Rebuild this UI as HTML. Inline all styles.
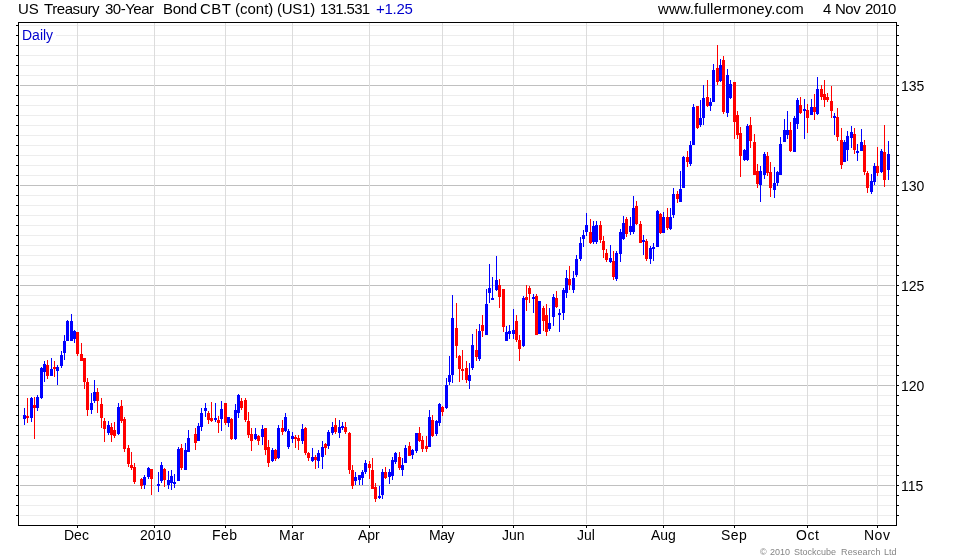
<!DOCTYPE html>
<html lang="en"><head><meta charset="utf-8"><title>US Treasury 30-Year Bond CBT (cont) (US1)</title>
<style>
html,body{margin:0;padding:0;background:#fff;}
body{width:980px;height:560px;position:relative;overflow:hidden;font-family:"Liberation Sans",Arial,sans-serif;color:#000;}
svg{position:absolute;left:0;top:0;}
.t{position:absolute;white-space:pre;line-height:1;}
.h{font-size:15px;top:1px;}
.ax{font-size:14px;}
.bl{color:#0000cd;}
.m{top:528px;}
.cp{font-size:9px;color:#858585;top:548px;}
</style></head><body>
<svg width="980" height="560" viewBox="0 0 980 560" shape-rendering="crispEdges">
<g fill="#ededed">
<rect x="20" y="25" width="875" height="1"/>
<rect x="20" y="35" width="875" height="1"/>
<rect x="20" y="45" width="875" height="1"/>
<rect x="20" y="55" width="875" height="1"/>
<rect x="20" y="65" width="875" height="1"/>
<rect x="20" y="75" width="875" height="1"/>
<rect x="20" y="95" width="875" height="1"/>
<rect x="20" y="105" width="875" height="1"/>
<rect x="20" y="115" width="875" height="1"/>
<rect x="20" y="125" width="875" height="1"/>
<rect x="20" y="135" width="875" height="1"/>
<rect x="20" y="145" width="875" height="1"/>
<rect x="20" y="155" width="875" height="1"/>
<rect x="20" y="165" width="875" height="1"/>
<rect x="20" y="175" width="875" height="1"/>
<rect x="20" y="195" width="875" height="1"/>
<rect x="20" y="205" width="875" height="1"/>
<rect x="20" y="215" width="875" height="1"/>
<rect x="20" y="225" width="875" height="1"/>
<rect x="20" y="235" width="875" height="1"/>
<rect x="20" y="245" width="875" height="1"/>
<rect x="20" y="255" width="875" height="1"/>
<rect x="20" y="265" width="875" height="1"/>
<rect x="20" y="275" width="875" height="1"/>
<rect x="20" y="295" width="875" height="1"/>
<rect x="20" y="305" width="875" height="1"/>
<rect x="20" y="315" width="875" height="1"/>
<rect x="20" y="325" width="875" height="1"/>
<rect x="20" y="335" width="875" height="1"/>
<rect x="20" y="345" width="875" height="1"/>
<rect x="20" y="355" width="875" height="1"/>
<rect x="20" y="365" width="875" height="1"/>
<rect x="20" y="375" width="875" height="1"/>
<rect x="20" y="395" width="875" height="1"/>
<rect x="20" y="405" width="875" height="1"/>
<rect x="20" y="415" width="875" height="1"/>
<rect x="20" y="425" width="875" height="1"/>
<rect x="20" y="435" width="875" height="1"/>
<rect x="20" y="445" width="875" height="1"/>
<rect x="20" y="455" width="875" height="1"/>
<rect x="20" y="465" width="875" height="1"/>
<rect x="20" y="475" width="875" height="1"/>
<rect x="20" y="495" width="875" height="1"/>
<rect x="20" y="505" width="875" height="1"/>
<rect x="20" y="515" width="875" height="1"/>
</g>
<g fill="#c0c0c0">
<rect x="20" y="85" width="875" height="1"/>
<rect x="20" y="185" width="875" height="1"/>
<rect x="20" y="285" width="875" height="1"/>
<rect x="20" y="385" width="875" height="1"/>
<rect x="20" y="485" width="875" height="1"/>
</g>
<g fill="#dcdcdc">
<rect x="77" y="23" width="1" height="501"/>
<rect x="154" y="23" width="1" height="501"/>
<rect x="225" y="23" width="1" height="501"/>
<rect x="292" y="23" width="1" height="501"/>
<rect x="369" y="23" width="1" height="501"/>
<rect x="442" y="23" width="1" height="501"/>
<rect x="513" y="23" width="1" height="501"/>
<rect x="586" y="23" width="1" height="501"/>
<rect x="663" y="23" width="1" height="501"/>
<rect x="734" y="23" width="1" height="501"/>
<rect x="807" y="23" width="1" height="501"/>
<rect x="877" y="23" width="1" height="501"/>
</g>
<g fill="#0000ff">
<rect x="24" y="408" width="1" height="17"/><rect x="23" y="415" width="3" height="4"/>
<rect x="31" y="397" width="1" height="25"/><rect x="30" y="398" width="3" height="20"/>
<rect x="37" y="395" width="1" height="16"/><rect x="36" y="397" width="3" height="11"/>
<rect x="41" y="367" width="1" height="32"/><rect x="40" y="368" width="3" height="30"/>
<rect x="44" y="361" width="1" height="21"/><rect x="43" y="364" width="3" height="8"/>
<rect x="51" y="358" width="1" height="18"/><rect x="50" y="369" width="3" height="7"/>
<rect x="57" y="365" width="1" height="20"/><rect x="56" y="367" width="3" height="4"/>
<rect x="61" y="351" width="1" height="17"/><rect x="60" y="355" width="3" height="11"/>
<rect x="64" y="335" width="1" height="25"/><rect x="63" y="341" width="3" height="12"/>
<rect x="67" y="320" width="1" height="21"/><rect x="66" y="321" width="3" height="20"/>
<rect x="71" y="314" width="1" height="27"/><rect x="70" y="321" width="3" height="20"/>
<rect x="74" y="330" width="1" height="13"/><rect x="73" y="331" width="3" height="8"/>
<rect x="91" y="393" width="1" height="21"/><rect x="90" y="403" width="3" height="7"/>
<rect x="94" y="380" width="1" height="23"/><rect x="93" y="392" width="3" height="9"/>
<rect x="108" y="421" width="1" height="14"/><rect x="107" y="425" width="3" height="8"/>
<rect x="118" y="403" width="1" height="32"/><rect x="117" y="407" width="3" height="27"/>
<rect x="144" y="475" width="1" height="14"/><rect x="143" y="477" width="3" height="8"/>
<rect x="148" y="467" width="1" height="12"/><rect x="147" y="468" width="3" height="9"/>
<rect x="158" y="472" width="1" height="20"/><rect x="157" y="484" width="3" height="2"/>
<rect x="161" y="462" width="1" height="21"/><rect x="160" y="465" width="3" height="16"/>
<rect x="168" y="471" width="1" height="18"/><rect x="167" y="480" width="3" height="5"/>
<rect x="171" y="470" width="1" height="20"/><rect x="170" y="476" width="3" height="7"/>
<rect x="174" y="474" width="1" height="14"/><rect x="173" y="482" width="3" height="2"/>
<rect x="178" y="447" width="1" height="34"/><rect x="177" y="449" width="3" height="32"/>
<rect x="185" y="443" width="1" height="27"/><rect x="184" y="450" width="3" height="20"/>
<rect x="188" y="430" width="1" height="22"/><rect x="187" y="438" width="3" height="14"/>
<rect x="198" y="423" width="1" height="18"/><rect x="197" y="426" width="3" height="15"/>
<rect x="201" y="408" width="1" height="23"/><rect x="200" y="413" width="3" height="14"/>
<rect x="205" y="403" width="1" height="14"/><rect x="204" y="408" width="3" height="3"/>
<rect x="215" y="403" width="1" height="19"/><rect x="214" y="418" width="3" height="2"/>
<rect x="221" y="401" width="1" height="30"/><rect x="220" y="409" width="3" height="10"/>
<rect x="228" y="417" width="1" height="10"/><rect x="227" y="417" width="3" height="6"/>
<rect x="235" y="404" width="1" height="36"/><rect x="234" y="410" width="3" height="29"/>
<rect x="238" y="394" width="1" height="24"/><rect x="237" y="395" width="3" height="18"/>
<rect x="255" y="428" width="1" height="12"/><rect x="254" y="434" width="3" height="5"/>
<rect x="262" y="425" width="1" height="20"/><rect x="261" y="429" width="3" height="8"/>
<rect x="272" y="448" width="1" height="14"/><rect x="271" y="450" width="3" height="11"/>
<rect x="278" y="425" width="1" height="34"/><rect x="277" y="428" width="3" height="30"/>
<rect x="285" y="413" width="1" height="19"/><rect x="284" y="417" width="3" height="14"/>
<rect x="288" y="429" width="1" height="20"/><rect x="287" y="431" width="3" height="16"/>
<rect x="292" y="432" width="1" height="11"/><rect x="291" y="436" width="3" height="3"/>
<rect x="302" y="424" width="1" height="20"/><rect x="301" y="429" width="3" height="12"/>
<rect x="312" y="448" width="1" height="14"/><rect x="311" y="457" width="3" height="4"/>
<rect x="318" y="450" width="1" height="18"/><rect x="317" y="453" width="3" height="8"/>
<rect x="322" y="441" width="1" height="28"/><rect x="321" y="447" width="3" height="10"/>
<rect x="328" y="430" width="1" height="19"/><rect x="327" y="432" width="3" height="14"/>
<rect x="332" y="422" width="1" height="13"/><rect x="331" y="427" width="3" height="6"/>
<rect x="339" y="420" width="1" height="18"/><rect x="338" y="427" width="3" height="6"/>
<rect x="342" y="422" width="1" height="8"/><rect x="341" y="426" width="3" height="2"/>
<rect x="355" y="472" width="1" height="13"/><rect x="354" y="477" width="3" height="4"/>
<rect x="359" y="475" width="1" height="10"/><rect x="358" y="475" width="3" height="5"/>
<rect x="362" y="470" width="1" height="15"/><rect x="361" y="472" width="3" height="6"/>
<rect x="365" y="460" width="1" height="14"/><rect x="364" y="463" width="3" height="9"/>
<rect x="379" y="486" width="1" height="13"/><rect x="378" y="496" width="3" height="2"/>
<rect x="382" y="469" width="1" height="30"/><rect x="381" y="472" width="3" height="23"/>
<rect x="389" y="469" width="1" height="15"/><rect x="388" y="472" width="3" height="5"/>
<rect x="392" y="457" width="1" height="23"/><rect x="391" y="460" width="3" height="16"/>
<rect x="395" y="452" width="1" height="12"/><rect x="394" y="453" width="3" height="9"/>
<rect x="402" y="458" width="1" height="18"/><rect x="401" y="465" width="3" height="5"/>
<rect x="405" y="445" width="1" height="18"/><rect x="404" y="448" width="3" height="15"/>
<rect x="412" y="449" width="1" height="10"/><rect x="411" y="450" width="3" height="5"/>
<rect x="416" y="433" width="1" height="20"/><rect x="415" y="433" width="3" height="18"/>
<rect x="429" y="410" width="1" height="37"/><rect x="428" y="417" width="3" height="30"/>
<rect x="436" y="420" width="1" height="16"/><rect x="435" y="421" width="3" height="13"/>
<rect x="439" y="403" width="1" height="23"/><rect x="438" y="404" width="3" height="19"/>
<rect x="446" y="378" width="1" height="31"/><rect x="445" y="385" width="3" height="23"/>
<rect x="449" y="356" width="1" height="29"/><rect x="448" y="375" width="3" height="7"/>
<rect x="452" y="295" width="1" height="88"/><rect x="451" y="318" width="3" height="57"/>
<rect x="469" y="363" width="1" height="26"/><rect x="468" y="375" width="3" height="6"/>
<rect x="472" y="334" width="1" height="36"/><rect x="471" y="345" width="3" height="23"/>
<rect x="479" y="324" width="1" height="37"/><rect x="478" y="331" width="3" height="28"/>
<rect x="486" y="289" width="1" height="46"/><rect x="485" y="304" width="3" height="31"/>
<rect x="489" y="264" width="1" height="39"/><rect x="488" y="288" width="3" height="5"/>
<rect x="492" y="277" width="1" height="23"/><rect x="491" y="298" width="3" height="2"/>
<rect x="496" y="256" width="1" height="35"/><rect x="495" y="280" width="3" height="10"/>
<rect x="506" y="326" width="1" height="15"/><rect x="505" y="332" width="3" height="9"/>
<rect x="509" y="325" width="1" height="14"/><rect x="508" y="331" width="3" height="3"/>
<rect x="513" y="309" width="1" height="30"/><rect x="512" y="330" width="3" height="4"/>
<rect x="523" y="296" width="1" height="51"/><rect x="522" y="298" width="3" height="48"/>
<rect x="533" y="294" width="1" height="19"/><rect x="532" y="297" width="3" height="2"/>
<rect x="539" y="301" width="1" height="33"/><rect x="538" y="301" width="3" height="33"/>
<rect x="549" y="308" width="1" height="23"/><rect x="548" y="323" width="3" height="6"/>
<rect x="553" y="294" width="1" height="32"/><rect x="552" y="297" width="3" height="20"/>
<rect x="559" y="309" width="1" height="23"/><rect x="558" y="313" width="3" height="2"/>
<rect x="563" y="288" width="1" height="32"/><rect x="562" y="290" width="3" height="23"/>
<rect x="566" y="270" width="1" height="28"/><rect x="565" y="278" width="3" height="15"/>
<rect x="573" y="271" width="1" height="22"/><rect x="572" y="278" width="3" height="12"/>
<rect x="576" y="255" width="1" height="22"/><rect x="575" y="259" width="3" height="16"/>
<rect x="580" y="237" width="1" height="24"/><rect x="579" y="243" width="3" height="16"/>
<rect x="583" y="230" width="1" height="17"/><rect x="582" y="235" width="3" height="4"/>
<rect x="586" y="213" width="1" height="23"/><rect x="585" y="225" width="3" height="7"/>
<rect x="593" y="221" width="1" height="23"/><rect x="592" y="226" width="3" height="16"/>
<rect x="596" y="221" width="1" height="23"/><rect x="595" y="225" width="3" height="17"/>
<rect x="610" y="245" width="1" height="18"/><rect x="609" y="258" width="3" height="4"/>
<rect x="616" y="251" width="1" height="30"/><rect x="615" y="253" width="3" height="26"/>
<rect x="620" y="229" width="1" height="33"/><rect x="619" y="232" width="3" height="22"/>
<rect x="623" y="216" width="1" height="24"/><rect x="622" y="223" width="3" height="16"/>
<rect x="630" y="217" width="1" height="18"/><rect x="629" y="226" width="3" height="6"/>
<rect x="633" y="196" width="1" height="38"/><rect x="632" y="208" width="3" height="24"/>
<rect x="643" y="235" width="1" height="20"/><rect x="642" y="240" width="3" height="2"/>
<rect x="650" y="246" width="1" height="18"/><rect x="649" y="248" width="3" height="11"/>
<rect x="653" y="243" width="1" height="18"/><rect x="652" y="247" width="3" height="2"/>
<rect x="657" y="210" width="1" height="37"/><rect x="656" y="211" width="3" height="36"/>
<rect x="663" y="212" width="1" height="21"/><rect x="662" y="217" width="3" height="16"/>
<rect x="670" y="208" width="1" height="22"/><rect x="669" y="217" width="3" height="12"/>
<rect x="673" y="188" width="1" height="30"/><rect x="672" y="194" width="3" height="21"/>
<rect x="680" y="171" width="1" height="31"/><rect x="679" y="189" width="3" height="13"/>
<rect x="683" y="156" width="1" height="32"/><rect x="682" y="157" width="3" height="31"/>
<rect x="690" y="141" width="1" height="25"/><rect x="689" y="145" width="3" height="19"/>
<rect x="693" y="104" width="1" height="41"/><rect x="692" y="107" width="3" height="38"/>
<rect x="700" y="100" width="1" height="27"/><rect x="699" y="118" width="3" height="7"/>
<rect x="703" y="85" width="1" height="40"/><rect x="702" y="98" width="3" height="20"/>
<rect x="710" y="98" width="1" height="13"/><rect x="709" y="102" width="3" height="4"/>
<rect x="713" y="64" width="1" height="38"/><rect x="712" y="70" width="3" height="32"/>
<rect x="720" y="59" width="1" height="23"/><rect x="719" y="65" width="3" height="16"/>
<rect x="727" y="69" width="1" height="48"/><rect x="726" y="75" width="3" height="38"/>
<rect x="730" y="80" width="1" height="19"/><rect x="729" y="84" width="3" height="14"/>
<rect x="744" y="149" width="1" height="12"/><rect x="743" y="150" width="3" height="10"/>
<rect x="747" y="124" width="1" height="37"/><rect x="746" y="126" width="3" height="34"/>
<rect x="760" y="166" width="1" height="36"/><rect x="759" y="171" width="3" height="14"/>
<rect x="764" y="152" width="1" height="27"/><rect x="763" y="154" width="3" height="21"/>
<rect x="774" y="167" width="1" height="31"/><rect x="773" y="183" width="3" height="7"/>
<rect x="777" y="171" width="1" height="15"/><rect x="776" y="172" width="3" height="11"/>
<rect x="780" y="137" width="1" height="38"/><rect x="779" y="144" width="3" height="31"/>
<rect x="784" y="119" width="1" height="23"/><rect x="783" y="130" width="3" height="12"/>
<rect x="787" y="111" width="1" height="28"/><rect x="786" y="130" width="3" height="5"/>
<rect x="794" y="116" width="1" height="36"/><rect x="793" y="118" width="3" height="34"/>
<rect x="797" y="98" width="1" height="31"/><rect x="796" y="100" width="3" height="24"/>
<rect x="804" y="99" width="1" height="40"/><rect x="803" y="109" width="3" height="2"/>
<rect x="811" y="99" width="1" height="16"/><rect x="810" y="107" width="3" height="8"/>
<rect x="817" y="77" width="1" height="38"/><rect x="816" y="89" width="3" height="25"/>
<rect x="834" y="113" width="1" height="22"/><rect x="833" y="116" width="3" height="2"/>
<rect x="844" y="140" width="1" height="22"/><rect x="843" y="142" width="3" height="20"/>
<rect x="847" y="131" width="1" height="30"/><rect x="846" y="136" width="3" height="14"/>
<rect x="851" y="126" width="1" height="22"/><rect x="850" y="132" width="3" height="6"/>
<rect x="857" y="144" width="1" height="17"/><rect x="856" y="151" width="3" height="2"/>
<rect x="861" y="129" width="1" height="22"/><rect x="860" y="142" width="3" height="9"/>
<rect x="871" y="174" width="1" height="20"/><rect x="870" y="181" width="3" height="11"/>
<rect x="874" y="163" width="1" height="22"/><rect x="873" y="166" width="3" height="16"/>
<rect x="881" y="149" width="1" height="24"/><rect x="880" y="151" width="3" height="21"/>
<rect x="888" y="141" width="1" height="39"/><rect x="887" y="154" width="3" height="16"/>
</g>
<g fill="#ff0000">
<rect x="27" y="398" width="1" height="25"/><rect x="26" y="416" width="3" height="2"/>
<rect x="34" y="397" width="1" height="42"/><rect x="33" y="405" width="3" height="3"/>
<rect x="47" y="360" width="1" height="19"/><rect x="46" y="365" width="3" height="11"/>
<rect x="54" y="361" width="1" height="16"/><rect x="53" y="367" width="3" height="2"/>
<rect x="77" y="332" width="1" height="24"/><rect x="76" y="332" width="3" height="22"/>
<rect x="81" y="343" width="1" height="18"/><rect x="80" y="354" width="3" height="7"/>
<rect x="84" y="358" width="1" height="31"/><rect x="83" y="358" width="3" height="24"/>
<rect x="87" y="378" width="1" height="38"/><rect x="86" y="382" width="3" height="28"/>
<rect x="97" y="388" width="1" height="25"/><rect x="96" y="392" width="3" height="9"/>
<rect x="101" y="398" width="1" height="30"/><rect x="100" y="404" width="3" height="14"/>
<rect x="104" y="418" width="1" height="24"/><rect x="103" y="421" width="3" height="8"/>
<rect x="111" y="423" width="1" height="19"/><rect x="110" y="427" width="3" height="8"/>
<rect x="114" y="422" width="1" height="16"/><rect x="113" y="430" width="3" height="6"/>
<rect x="121" y="400" width="1" height="23"/><rect x="120" y="406" width="3" height="15"/>
<rect x="124" y="417" width="1" height="35"/><rect x="123" y="419" width="3" height="30"/>
<rect x="128" y="445" width="1" height="22"/><rect x="127" y="448" width="3" height="16"/>
<rect x="131" y="452" width="1" height="18"/><rect x="130" y="465" width="3" height="3"/>
<rect x="134" y="463" width="1" height="21"/><rect x="133" y="467" width="3" height="15"/>
<rect x="141" y="478" width="1" height="11"/><rect x="140" y="479" width="3" height="7"/>
<rect x="151" y="469" width="1" height="26"/><rect x="150" y="469" width="3" height="10"/>
<rect x="164" y="468" width="1" height="19"/><rect x="163" y="469" width="3" height="11"/>
<rect x="181" y="444" width="1" height="26"/><rect x="180" y="448" width="3" height="20"/>
<rect x="195" y="428" width="1" height="22"/><rect x="194" y="434" width="3" height="9"/>
<rect x="208" y="411" width="1" height="13"/><rect x="207" y="413" width="3" height="7"/>
<rect x="211" y="402" width="1" height="20"/><rect x="210" y="418" width="3" height="3"/>
<rect x="218" y="416" width="1" height="17"/><rect x="217" y="420" width="3" height="3"/>
<rect x="225" y="403" width="1" height="22"/><rect x="224" y="403" width="3" height="20"/>
<rect x="231" y="418" width="1" height="22"/><rect x="230" y="419" width="3" height="20"/>
<rect x="241" y="398" width="1" height="12"/><rect x="240" y="401" width="3" height="7"/>
<rect x="245" y="398" width="1" height="24"/><rect x="244" y="400" width="3" height="20"/>
<rect x="248" y="412" width="1" height="26"/><rect x="247" y="421" width="3" height="14"/>
<rect x="251" y="428" width="1" height="23"/><rect x="250" y="434" width="3" height="7"/>
<rect x="258" y="435" width="1" height="10"/><rect x="257" y="436" width="3" height="5"/>
<rect x="265" y="428" width="1" height="27"/><rect x="264" y="428" width="3" height="22"/>
<rect x="268" y="440" width="1" height="27"/><rect x="267" y="447" width="3" height="16"/>
<rect x="275" y="449" width="1" height="12"/><rect x="274" y="450" width="3" height="9"/>
<rect x="282" y="420" width="1" height="15"/><rect x="281" y="428" width="3" height="4"/>
<rect x="295" y="435" width="1" height="13"/><rect x="294" y="437" width="3" height="2"/>
<rect x="298" y="435" width="1" height="15"/><rect x="297" y="438" width="3" height="3"/>
<rect x="305" y="427" width="1" height="28"/><rect x="304" y="428" width="3" height="25"/>
<rect x="308" y="452" width="1" height="9"/><rect x="307" y="453" width="3" height="5"/>
<rect x="315" y="455" width="1" height="14"/><rect x="314" y="457" width="3" height="3"/>
<rect x="325" y="443" width="1" height="12"/><rect x="324" y="444" width="3" height="4"/>
<rect x="335" y="418" width="1" height="16"/><rect x="334" y="425" width="3" height="7"/>
<rect x="345" y="422" width="1" height="12"/><rect x="344" y="427" width="3" height="5"/>
<rect x="349" y="432" width="1" height="42"/><rect x="348" y="433" width="3" height="37"/>
<rect x="352" y="465" width="1" height="24"/><rect x="351" y="470" width="3" height="16"/>
<rect x="369" y="461" width="1" height="18"/><rect x="368" y="464" width="3" height="4"/>
<rect x="372" y="458" width="1" height="31"/><rect x="371" y="470" width="3" height="19"/>
<rect x="375" y="483" width="1" height="19"/><rect x="374" y="487" width="3" height="12"/>
<rect x="385" y="467" width="1" height="12"/><rect x="384" y="472" width="3" height="6"/>
<rect x="399" y="452" width="1" height="18"/><rect x="398" y="457" width="3" height="11"/>
<rect x="409" y="442" width="1" height="14"/><rect x="408" y="446" width="3" height="10"/>
<rect x="419" y="427" width="1" height="15"/><rect x="418" y="433" width="3" height="8"/>
<rect x="422" y="436" width="1" height="16"/><rect x="421" y="440" width="3" height="9"/>
<rect x="426" y="436" width="1" height="16"/><rect x="425" y="446" width="3" height="3"/>
<rect x="432" y="415" width="1" height="22"/><rect x="431" y="420" width="3" height="16"/>
<rect x="442" y="406" width="1" height="10"/><rect x="441" y="407" width="3" height="5"/>
<rect x="456" y="303" width="1" height="55"/><rect x="455" y="328" width="3" height="18"/>
<rect x="459" y="355" width="1" height="27"/><rect x="458" y="356" width="3" height="13"/>
<rect x="462" y="350" width="1" height="30"/><rect x="461" y="369" width="3" height="2"/>
<rect x="466" y="361" width="1" height="22"/><rect x="465" y="368" width="3" height="12"/>
<rect x="476" y="329" width="1" height="32"/><rect x="475" y="350" width="3" height="7"/>
<rect x="482" y="315" width="1" height="22"/><rect x="481" y="325" width="3" height="6"/>
<rect x="499" y="279" width="1" height="29"/><rect x="498" y="285" width="3" height="12"/>
<rect x="503" y="289" width="1" height="43"/><rect x="502" y="289" width="3" height="38"/>
<rect x="516" y="315" width="1" height="27"/><rect x="515" y="321" width="3" height="19"/>
<rect x="519" y="335" width="1" height="26"/><rect x="518" y="340" width="3" height="9"/>
<rect x="526" y="285" width="1" height="26"/><rect x="525" y="297" width="3" height="3"/>
<rect x="529" y="286" width="1" height="17"/><rect x="528" y="288" width="3" height="6"/>
<rect x="536" y="294" width="1" height="41"/><rect x="535" y="296" width="3" height="39"/>
<rect x="543" y="306" width="1" height="25"/><rect x="542" y="308" width="3" height="13"/>
<rect x="546" y="304" width="1" height="32"/><rect x="545" y="315" width="3" height="17"/>
<rect x="556" y="291" width="1" height="17"/><rect x="555" y="298" width="3" height="9"/>
<rect x="569" y="266" width="1" height="24"/><rect x="568" y="279" width="3" height="6"/>
<rect x="590" y="219" width="1" height="25"/><rect x="589" y="232" width="3" height="11"/>
<rect x="600" y="221" width="1" height="22"/><rect x="599" y="225" width="3" height="15"/>
<rect x="603" y="236" width="1" height="22"/><rect x="602" y="241" width="3" height="9"/>
<rect x="606" y="249" width="1" height="13"/><rect x="605" y="253" width="3" height="7"/>
<rect x="613" y="251" width="1" height="29"/><rect x="612" y="261" width="3" height="16"/>
<rect x="626" y="217" width="1" height="20"/><rect x="625" y="219" width="3" height="15"/>
<rect x="636" y="201" width="1" height="24"/><rect x="635" y="206" width="3" height="18"/>
<rect x="640" y="221" width="1" height="22"/><rect x="639" y="224" width="3" height="19"/>
<rect x="646" y="239" width="1" height="22"/><rect x="645" y="241" width="3" height="18"/>
<rect x="660" y="213" width="1" height="21"/><rect x="659" y="214" width="3" height="19"/>
<rect x="667" y="208" width="1" height="22"/><rect x="666" y="217" width="3" height="11"/>
<rect x="677" y="191" width="1" height="12"/><rect x="676" y="194" width="3" height="5"/>
<rect x="687" y="151" width="1" height="16"/><rect x="686" y="157" width="3" height="5"/>
<rect x="697" y="106" width="1" height="23"/><rect x="696" y="106" width="3" height="22"/>
<rect x="707" y="80" width="1" height="27"/><rect x="706" y="97" width="3" height="9"/>
<rect x="717" y="45" width="1" height="40"/><rect x="716" y="68" width="3" height="14"/>
<rect x="723" y="56" width="1" height="58"/><rect x="722" y="60" width="3" height="52"/>
<rect x="734" y="82" width="1" height="57"/><rect x="733" y="82" width="3" height="40"/>
<rect x="737" y="111" width="1" height="28"/><rect x="736" y="115" width="3" height="20"/>
<rect x="740" y="127" width="1" height="50"/><rect x="739" y="133" width="3" height="23"/>
<rect x="750" y="117" width="1" height="31"/><rect x="749" y="125" width="3" height="16"/>
<rect x="754" y="134" width="1" height="41"/><rect x="753" y="142" width="3" height="33"/>
<rect x="757" y="164" width="1" height="24"/><rect x="756" y="171" width="3" height="13"/>
<rect x="767" y="152" width="1" height="24"/><rect x="766" y="156" width="3" height="17"/>
<rect x="770" y="162" width="1" height="35"/><rect x="769" y="172" width="3" height="16"/>
<rect x="790" y="122" width="1" height="30"/><rect x="789" y="130" width="3" height="21"/>
<rect x="800" y="97" width="1" height="17"/><rect x="799" y="105" width="3" height="8"/>
<rect x="807" y="104" width="1" height="29"/><rect x="806" y="110" width="3" height="8"/>
<rect x="814" y="94" width="1" height="26"/><rect x="813" y="107" width="3" height="5"/>
<rect x="821" y="85" width="1" height="15"/><rect x="820" y="89" width="3" height="8"/>
<rect x="824" y="80" width="1" height="27"/><rect x="823" y="94" width="3" height="6"/>
<rect x="827" y="93" width="1" height="9"/><rect x="826" y="97" width="3" height="3"/>
<rect x="831" y="86" width="1" height="32"/><rect x="830" y="101" width="3" height="10"/>
<rect x="837" y="108" width="1" height="33"/><rect x="836" y="117" width="3" height="20"/>
<rect x="841" y="128" width="1" height="41"/><rect x="840" y="140" width="3" height="25"/>
<rect x="854" y="128" width="1" height="26"/><rect x="853" y="134" width="3" height="16"/>
<rect x="864" y="140" width="1" height="35"/><rect x="863" y="145" width="3" height="27"/>
<rect x="867" y="171" width="1" height="22"/><rect x="866" y="173" width="3" height="15"/>
<rect x="877" y="147" width="1" height="29"/><rect x="876" y="166" width="3" height="7"/>
<rect x="884" y="125" width="1" height="62"/><rect x="883" y="152" width="3" height="28"/>
</g>
<g fill="#000">
<rect x="18" y="22" width="879" height="1"/>
<rect x="18" y="525" width="879" height="1"/>
<rect x="18" y="22" width="1" height="504"/>
<rect x="896" y="22" width="1" height="504"/>
<rect x="16" y="25" width="2" height="1"/><rect x="897" y="25" width="2" height="1"/>
<rect x="16" y="35" width="2" height="1"/><rect x="897" y="35" width="2" height="1"/>
<rect x="16" y="45" width="2" height="1"/><rect x="897" y="45" width="2" height="1"/>
<rect x="16" y="55" width="2" height="1"/><rect x="897" y="55" width="2" height="1"/>
<rect x="16" y="65" width="2" height="1"/><rect x="897" y="65" width="2" height="1"/>
<rect x="16" y="75" width="2" height="1"/><rect x="897" y="75" width="2" height="1"/>
<rect x="16" y="85" width="2" height="1"/><rect x="897" y="85" width="2" height="1"/>
<rect x="16" y="95" width="2" height="1"/><rect x="897" y="95" width="2" height="1"/>
<rect x="16" y="105" width="2" height="1"/><rect x="897" y="105" width="2" height="1"/>
<rect x="16" y="115" width="2" height="1"/><rect x="897" y="115" width="2" height="1"/>
<rect x="16" y="125" width="2" height="1"/><rect x="897" y="125" width="2" height="1"/>
<rect x="16" y="135" width="2" height="1"/><rect x="897" y="135" width="2" height="1"/>
<rect x="16" y="145" width="2" height="1"/><rect x="897" y="145" width="2" height="1"/>
<rect x="16" y="155" width="2" height="1"/><rect x="897" y="155" width="2" height="1"/>
<rect x="16" y="165" width="2" height="1"/><rect x="897" y="165" width="2" height="1"/>
<rect x="16" y="175" width="2" height="1"/><rect x="897" y="175" width="2" height="1"/>
<rect x="16" y="185" width="2" height="1"/><rect x="897" y="185" width="2" height="1"/>
<rect x="16" y="195" width="2" height="1"/><rect x="897" y="195" width="2" height="1"/>
<rect x="16" y="205" width="2" height="1"/><rect x="897" y="205" width="2" height="1"/>
<rect x="16" y="215" width="2" height="1"/><rect x="897" y="215" width="2" height="1"/>
<rect x="16" y="225" width="2" height="1"/><rect x="897" y="225" width="2" height="1"/>
<rect x="16" y="235" width="2" height="1"/><rect x="897" y="235" width="2" height="1"/>
<rect x="16" y="245" width="2" height="1"/><rect x="897" y="245" width="2" height="1"/>
<rect x="16" y="255" width="2" height="1"/><rect x="897" y="255" width="2" height="1"/>
<rect x="16" y="265" width="2" height="1"/><rect x="897" y="265" width="2" height="1"/>
<rect x="16" y="275" width="2" height="1"/><rect x="897" y="275" width="2" height="1"/>
<rect x="16" y="285" width="2" height="1"/><rect x="897" y="285" width="2" height="1"/>
<rect x="16" y="295" width="2" height="1"/><rect x="897" y="295" width="2" height="1"/>
<rect x="16" y="305" width="2" height="1"/><rect x="897" y="305" width="2" height="1"/>
<rect x="16" y="315" width="2" height="1"/><rect x="897" y="315" width="2" height="1"/>
<rect x="16" y="325" width="2" height="1"/><rect x="897" y="325" width="2" height="1"/>
<rect x="16" y="335" width="2" height="1"/><rect x="897" y="335" width="2" height="1"/>
<rect x="16" y="345" width="2" height="1"/><rect x="897" y="345" width="2" height="1"/>
<rect x="16" y="355" width="2" height="1"/><rect x="897" y="355" width="2" height="1"/>
<rect x="16" y="365" width="2" height="1"/><rect x="897" y="365" width="2" height="1"/>
<rect x="16" y="375" width="2" height="1"/><rect x="897" y="375" width="2" height="1"/>
<rect x="16" y="385" width="2" height="1"/><rect x="897" y="385" width="2" height="1"/>
<rect x="16" y="395" width="2" height="1"/><rect x="897" y="395" width="2" height="1"/>
<rect x="16" y="405" width="2" height="1"/><rect x="897" y="405" width="2" height="1"/>
<rect x="16" y="415" width="2" height="1"/><rect x="897" y="415" width="2" height="1"/>
<rect x="16" y="425" width="2" height="1"/><rect x="897" y="425" width="2" height="1"/>
<rect x="16" y="435" width="2" height="1"/><rect x="897" y="435" width="2" height="1"/>
<rect x="16" y="445" width="2" height="1"/><rect x="897" y="445" width="2" height="1"/>
<rect x="16" y="455" width="2" height="1"/><rect x="897" y="455" width="2" height="1"/>
<rect x="16" y="465" width="2" height="1"/><rect x="897" y="465" width="2" height="1"/>
<rect x="16" y="475" width="2" height="1"/><rect x="897" y="475" width="2" height="1"/>
<rect x="16" y="485" width="2" height="1"/><rect x="897" y="485" width="2" height="1"/>
<rect x="16" y="495" width="2" height="1"/><rect x="897" y="495" width="2" height="1"/>
<rect x="16" y="505" width="2" height="1"/><rect x="897" y="505" width="2" height="1"/>
<rect x="16" y="515" width="2" height="1"/><rect x="897" y="515" width="2" height="1"/>
<rect x="77" y="526" width="1" height="2"/>
<rect x="154" y="526" width="1" height="2"/>
<rect x="225" y="526" width="1" height="2"/>
<rect x="292" y="526" width="1" height="2"/>
<rect x="369" y="526" width="1" height="2"/>
<rect x="442" y="526" width="1" height="2"/>
<rect x="513" y="526" width="1" height="2"/>
<rect x="586" y="526" width="1" height="2"/>
<rect x="663" y="526" width="1" height="2"/>
<rect x="734" y="526" width="1" height="2"/>
<rect x="807" y="526" width="1" height="2"/>
<rect x="877" y="526" width="1" height="2"/>
</g></svg>
<span class="t h" style="left:18px;">US</span>
<span class="t h" style="left:44px;letter-spacing:-0.43px;">Treasury</span>
<span class="t h" style="left:105px;letter-spacing:-0.5px;">30-Year</span>
<span class="t h" style="left:163px;letter-spacing:-0.33px;">Bond</span>
<span class="t h" style="left:200px;letter-spacing:0.5px;">CBT</span>
<span class="t h" style="left:235px;">(cont)</span>
<span class="t h" style="left:277px;letter-spacing:-0.25px;">(US1)</span>
<span class="t h" style="left:320px;letter-spacing:-0.67px;">131.531</span>
<span class="t h bl" style="left:376px;letter-spacing:-0.25px;">+1.25</span>
<span class="t h" style="left:658px;letter-spacing:0.06px;">www.fullermoney.com</span>
<span class="t h" style="left:823px;">4</span>
<span class="t h" style="left:835px;letter-spacing:-0.5px;">Nov</span>
<span class="t h" style="left:865px;letter-spacing:-0.67px;">2010</span>
<div style="position:absolute;left:19px;top:27px;width:37px;height:17px;background:#fff"></div>
<span class="t ax bl" style="left:22px;top:28px;">Daily</span>
<span class="t ax m" style="left:64px;">Dec</span>
<span class="t ax m" style="left:140px;">2010</span>
<span class="t ax m" style="left:212px;letter-spacing:0.5px;">Feb</span>
<span class="t ax m" style="left:279px;letter-spacing:0.5px;">Mar</span>
<span class="t ax m" style="left:358px;">Apr</span>
<span class="t ax m" style="left:429px;letter-spacing:-0.5px;">May</span>
<span class="t ax m" style="left:502px;">Jun</span>
<span class="t ax m" style="left:577px;">Jul</span>
<span class="t ax m" style="left:651px;">Aug</span>
<span class="t ax m" style="left:721px;letter-spacing:0.5px;">Sep</span>
<span class="t ax m" style="left:796px;letter-spacing:0.5px;">Oct</span>
<span class="t ax m" style="left:864px;letter-spacing:0.5px;">Nov</span>
<span class="t ax" style="left:901px;top:79px;">135</span>
<span class="t ax" style="left:901px;top:179px;">130</span>
<span class="t ax" style="left:901px;top:279px;">125</span>
<span class="t ax" style="left:901px;top:379px;">120</span>
<span class="t ax" style="left:901px;top:479px;">115</span>
<span class="t cp" style="left:760px;">©</span>
<span class="t cp" style="left:770px;">2010</span>
<span class="t cp" style="left:794px;">Stockcube</span>
<span class="t cp" style="left:841px;letter-spacing:0.14px;">Research</span>
<span class="t cp" style="left:884px;">Ltd</span>
</body></html>
